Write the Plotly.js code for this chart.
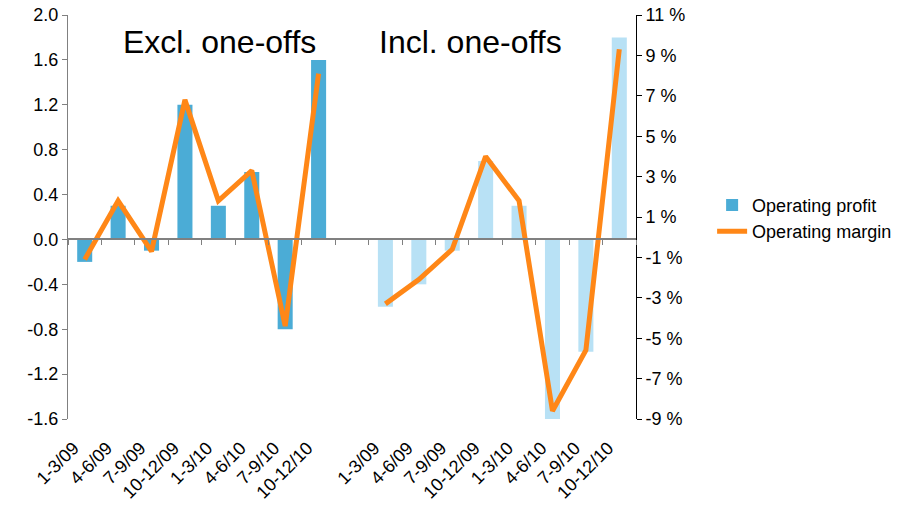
<!DOCTYPE html>
<html>
<head>
<meta charset="utf-8">
<script src="https://cdn.plot.ly/plotly-3.0.1.min.js"></script>
<style>html,body{margin:0;padding:0;background:#fff;}#chart{width:915px;height:506px;}</style>
</head>
<body>
<div id="chart"></div>
<script>
const quarters = ["1-3/09","4-6/09","7-9/09","10-12/09","1-3/10","4-6/10","7-9/10","10-12/10"];
const profitExcl = [-0.2, 0.3, -0.1, 1.2, 0.3, 0.6, -0.8, 1.6];
const profitIncl = [-0.6, -0.4, -0.1, 0.7, 0.3, -1.6, -1.0, 1.8];
const marginExcl = [-1.1, 1.8, -0.7, 6.8, 1.8, 3.3, -4.4, 8.1];
const marginIncl = [-3.3, -2.1, -0.6, 4.0, 1.8, -8.6, -5.6, 9.3];
const profitTicks = [-1.6, -1.2, -0.8, -0.4, 0.0, 0.4, 0.8, 1.2, 1.6, 2.0];
const marginTicks = [-9, -7, -5, -3, -1, 1, 3, 5, 7, 9, 11];

const n = quarters.length;
const xExcl = quarters.map((_, i) => i);
const xIncl = quarters.map((_, i) => i + n + 1);
const xAll = xExcl.concat([n], xIncl);
const marginAll = marginExcl.concat([null], marginIncl);
const labelShift = -0.33;
const tickVals = xExcl.concat(xIncl).map(v => v + labelShift);
const tickText = quarters.concat(quarters);
const xRange = [-0.5, 2 * n + 0.5];
const font = "'Liberation Sans', Arial, sans-serif";

const traces = [
  {type: "bar", name: "Operating profit", x: xExcl, y: profitExcl, width: 0.45,
   marker: {color: "#4BACD6"}, xaxis: "x", yaxis: "y"},
  {type: "bar", name: "Operating profit (incl.)", x: xIncl, y: profitIncl, width: 0.45,
   marker: {color: "#B8E1F5"}, showlegend: false, xaxis: "x", yaxis: "y"},
  {type: "scatter", mode: "lines", name: "Operating margin", x: xAll, y: marginAll,
   connectgaps: false, line: {color: "#FF8717", width: 5}, xaxis: "x", yaxis: "y2"}
];

const layout = {
  width: 915, height: 506,
  margin: {l: 68, r: 279, t: 15, b: 87},
  paper_bgcolor: "#fff", plot_bgcolor: "#fff",
  font: {family: font, size: 18, color: "#000"},
  barmode: "overlay",
  showlegend: true,
  legend: {x: 1.134, y: 0.575, xanchor: "left", yanchor: "top",
           font: {family: font, size: 18, color: "#000"}, bgcolor: "rgba(0,0,0,0)",
           tracegroupgap: 0, itemwidth: 30},
  xaxis: {range: xRange, anchor: "free", position: 1.6 / 3.6,
          tickmode: "array", tickvals: tickVals, ticktext: tickText,
          tickangle: -45, ticks: "", ticklabelstandoff: 190,
          minor: {tickmode: "linear", tick0: -0.5, dtick: 1, ticks: "outside",
                  ticklen: 5, tickcolor: "#808080", tickwidth: 1, showgrid: false},
          showline: true, linecolor: "#808080", linewidth: 2,
          showgrid: false, zeroline: false,
          tickfont: {family: font, size: 18, color: "#000"}},
  yaxis: {range: [-1.6, 2.0], tickmode: "array", tickvals: profitTicks,
          ticktext: profitTicks.map(v => v.toFixed(1)),
          ticks: "outside", ticklen: 5, tickcolor: "#808080", showline: true,
          linecolor: "#808080", linewidth: 1, showgrid: false, zeroline: false,
          tickfont: {family: font, size: 18, color: "#000"}},
  yaxis2: {range: [-9, 11], overlaying: "y", side: "right", tickmode: "array",
           tickvals: marginTicks, ticktext: marginTicks.map(v => v + " %"),
           ticks: "outside", ticklen: 5, tickcolor: "#000",
           showline: true, linecolor: "#000", linewidth: 1, showgrid: false, zeroline: false,
           tickfont: {family: font, size: 18, color: "#000"}},
  annotations: [
    {text: "Excl. one-offs", xref: "paper", yref: "paper", x: 0.2676, y: 0.933,
     showarrow: false, xanchor: "center", yanchor: "middle",
     font: {family: font, size: 32, color: "#000"}},
    {text: "Incl. one-offs", xref: "paper", yref: "paper", x: 0.708, y: 0.933,
     showarrow: false, xanchor: "center", yanchor: "middle",
     font: {family: font, size: 32, color: "#000"}}
  ]
};

Plotly.newPlot("chart", traces, layout, {displayModeBar: false, staticPlot: true});
</script>
</body>
</html>
